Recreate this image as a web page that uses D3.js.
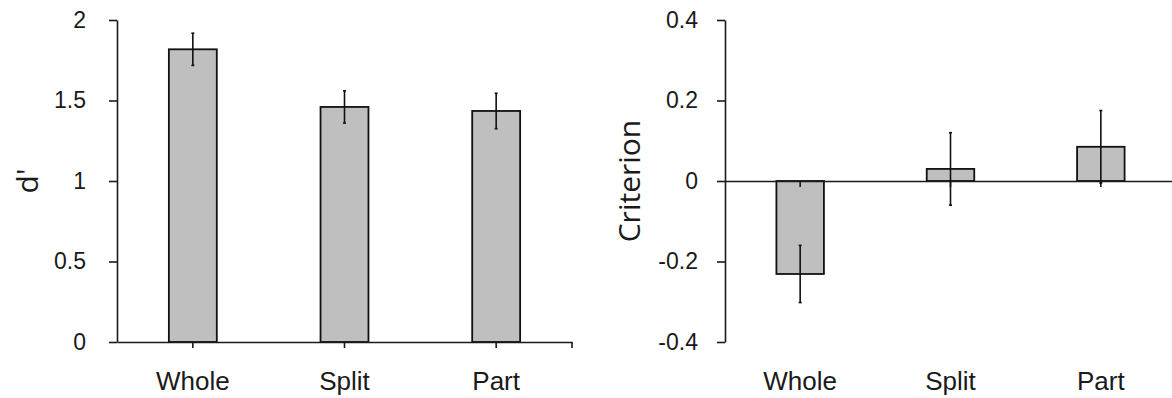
<!DOCTYPE html>
<html lang="en">
<head>
  <meta charset="UTF-8">
  <title>d' and Criterion by condition</title>
  <script src="https://d3js.org/d3.v7.min.js"></script>
  <style>
    body { margin: 0; background: #fff; }
    svg { display: block; font-family: "Open Sans", sans-serif; }
    .axis path, .axis line { stroke: #1a1a1a; stroke-width: 1.6; }
    .axis text { fill: #1a1a1a; font-size: 23px; }
    .xlab text { font-size: 26px; fill: #1a1a1a; }
    .bar { fill: #bfbfbf; stroke: #111; stroke-width: 1.8; }
    .err { stroke: #111; stroke-width: 1.6; }
    .title { font-size: 30px; fill: #1a1a1a; }
  </style>
</head>
<body>
  <svg width="1172" height="398"></svg>

  <script>
    const conditions = ["Whole", "Split", "Part"];
    const dPrime = [1.818, 1.46, 1.435];
    const dPrimeErr = [0.10, 0.10, 0.11];
    const criterion = [-0.231, 0.03, 0.085];
    const criterionErr = [0.071, 0.09, 0.09];
    const dPrimeTicks = [0, 0.5, 1, 1.5, 2];
    const criterionTicks = [-0.4, -0.2, 0, 0.2, 0.4];

    const svg = d3.select("svg");
    const plotTop = 20, plotBottom = 342;

    function panel(opts) {
      const g = svg.append("g");
      const data = conditions.map((c, i) => ({c, v: opts.values[i], e: opts.errors[i]}));

      const x = d3.scaleBand().domain(conditions).range(opts.xRange);
      const y = d3.scaleLinear().domain(opts.domain).range([plotBottom, plotTop]);
      const bw = x.bandwidth() * 0.316;
      const cx = d => x(d.c) + x.bandwidth() / 2;

      // Bars
      g.selectAll("rect")
        .data(data)
        .enter()
        .append("rect")
          .attr("class", "bar")
          .attr("x", d => cx(d) - bw / 2)
          .attr("y", d => y(Math.max(0, d.v)))
          .attr("width", bw)
          .attr("height", d => Math.abs(y(d.v) - y(0)));

      // Baseline axis (value 0) with ticks at category centres
      const base = g.append("g")
        .attr("class", "axis")
        .attr("transform", `translate(0,${y(0)})`)
        .call(d3.axisBottom(x).tickSize(6).tickSizeOuter(0).tickFormat(""));
      if (opts.endTick) {
        base.append("line")
          .attr("x1", opts.xRange[1]).attr("x2", opts.xRange[1])
          .attr("y1", 0).attr("y2", 6);
      }

      // Error bars
      const eb = g.selectAll(".eb").data(data).enter().append("g").attr("class", "eb");
      eb.append("line").attr("class", "err")
        .attr("x1", cx).attr("x2", cx)
        .attr("y1", d => y(d.v - d.e)).attr("y2", d => y(d.v + d.e));
      eb.append("line").attr("class", "err")
        .attr("x1", d => cx(d) - 1.5).attr("x2", d => cx(d) + 1.5)
        .attr("y1", d => y(d.v + d.e)).attr("y2", d => y(d.v + d.e));
      eb.append("line").attr("class", "err")
        .attr("x1", d => cx(d) - 1.5).attr("x2", d => cx(d) + 1.5)
        .attr("y1", d => y(d.v - d.e)).attr("y2", d => y(d.v - d.e));

      // Category labels at the bottom
      g.append("g")
        .attr("class", "xlab")
        .attr("transform", `translate(0,${plotBottom})`)
        .call(d3.axisBottom(x).tickSize(0).tickPadding(30))
        .call(a => a.select(".domain").remove());

      // Y axis
      g.append("g")
        .attr("class", "axis")
        .attr("transform", `translate(${opts.xRange[0]},0)`)
        .call(d3.axisLeft(y).tickValues(opts.ticks).tickSize(8).tickSizeOuter(0)
              .tickPadding(opts.pad).tickFormat(opts.fmt));

      // Y title
      g.append("text")
        .attr("class", "title")
        .attr("transform", `translate(${opts.titleX},${(plotTop + plotBottom) / 2}) rotate(-90)`)
        .attr("text-anchor", "middle")
        .text(opts.title);
    }

    panel({
      values: dPrime, errors: dPrimeErr, domain: [0, 2], ticks: dPrimeTicks,
      xRange: [117, 572], pad: 23, fmt: d => String(d),
      title: "d'", titleX: 38, endTick: true
    });

    panel({
      values: criterion, errors: criterionErr, domain: [-0.4, 0.4], ticks: criterionTicks,
      xRange: [725, 1176], pad: 19, fmt: d => d === 0 ? "0" : d.toFixed(1),
      title: "Criterion", titleX: 640, endTick: false
    });
  </script>
</body>
</html>
